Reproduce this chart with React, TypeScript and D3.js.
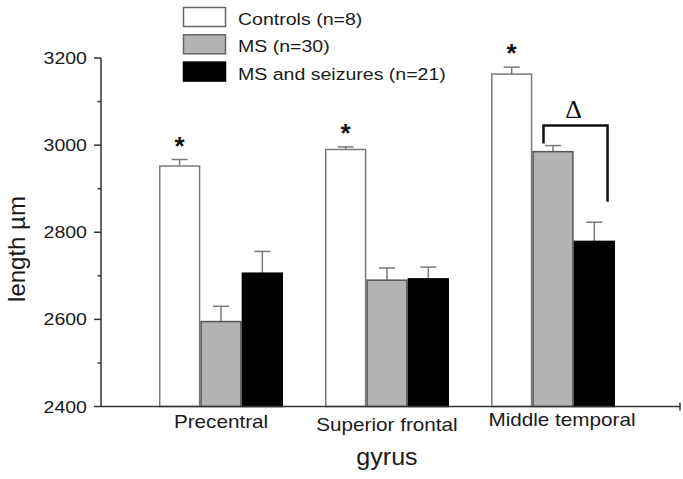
import React from "react";
import * as d3 from "d3";

const categories = ["Precentral", "Superior frontal", "Middle temporal"];
const seriesNames = ["Controls (n=8)", "MS (n=30)", "MS and seizures (n=21)"];
const controls = [2952, 2990, 3163];
const ms = [2595, 2690, 2985];
const msSeizures = [2706, 2693, 2779];
const controlsErr = [15, 6, 16];
const msErr = [35, 28, 14];
const msSeizuresErr = [50, 27, 44];
const significant = [true, true, true];
const yTicks = [2400, 2600, 2800, 3000, 3200];
const bracketValues = { top: 3045, left: 3004, right: 2870 };

const fills = ["#ffffff", "#b3b3b3", "#000000"];
const strokes = ["#7a7a7a", "#555555", "#000000"];
const FONT = "'Liberation Sans', Arial, sans-serif";
const SX = 1.15;

export default function App() {
  const W = 683, H = 479;
  const x0 = d3.scaleBand<string>().domain(categories).range([138, 636]).paddingInner(0.253).paddingOuter(0.1265);
  const x1 = d3.scaleBand<string>().domain(seriesNames).range([0, x0.bandwidth()]);
  const y = d3.scaleLinear().domain([2400, 3200]).range([406.5, 58]);
  const minor = y.ticks(8).filter((t) => !yTicks.includes(t));
  const values = [controls, ms, msSeizures];
  const errs = [controlsErr, msErr, msSeizuresErr];
  const axisX = 101;
  const labelDx = [0, 0, 9];
  const labelDy = [0, 3, -1.5];

  const bw = x1.bandwidth();
  const mt = categories[2];
  const bLeft = (x0(mt) as number) + (x1(seriesNames[1]) as number) + bw * 0.27;
  const bRight = (x0(mt) as number) + (x1(seriesNames[2]) as number) + bw * 0.82;

  return (
    <svg width={W} height={H} style={{ position: "absolute", left: 0, top: 0, background: "#fff" }}>
      {/* legend */}
      {seriesNames.map((s, i) => (
        <g key={s}>
          <rect x={183.5} y={7.5 + i * 27.3} width={42} height={19} fill={fills[i]} stroke={strokes[i] === "#000000" ? "#000" : "#666"} strokeWidth={1.5} />
          <text transform={`translate(238,${25 + i * 27.3}) scale(${SX},1)`} fontFamily={FONT} fontSize={17} fill="#1a1a1a">{s}</text>
        </g>
      ))}
      {/* bars */}
      {categories.map((c, ci) => (
        <g key={c} transform={`translate(${x0(c)},0)`}>
          {seriesNames.map((s, si) => {
            const v = values[si][ci];
            const e = errs[si][ci];
            const bx = x1(s) as number;
            const cx = bx + bw / 2;
            return (
              <g key={s}>
                <line x1={cx} x2={cx} y1={y(v)} y2={y(v + e)} stroke="#7a7a7a" strokeWidth={1.5} />
                <line x1={cx - 8} x2={cx + 8} y1={y(v + e)} y2={y(v + e)} stroke="#7a7a7a" strokeWidth={1.5} />
                <rect x={bx + 0.75} y={y(v)} width={bw - 1.5} height={y(2400) - y(v)} fill={fills[si]} stroke={strokes[si]} strokeWidth={1.5} />
              </g>
            );
          })}
          {significant[ci] && (
            <text x={(x1(seriesNames[0]) as number) + bw / 2} y={y(controls[ci] + controlsErr[ci]) - 5} textAnchor="middle" fontFamily={FONT} fontSize={26} fontWeight="bold" fill="#111">*</text>
          )}
        </g>
      ))}
      {/* bracket */}
      <path d={`M${bLeft},${y(bracketValues.left)} V${y(bracketValues.top)} H${bRight} V${y(bracketValues.right)}`} fill="none" stroke="#111" strokeWidth={2.5} />
      <text x={(bLeft + bRight) / 2 - 2} y={117.5} textAnchor="middle" fontFamily="'Liberation Serif', 'DejaVu Serif', 'Times New Roman', serif" fontSize={26} fill="#111">Δ</text>
      {/* axes */}
      <line x1={axisX} x2={axisX} y1={y(3200)} y2={y(2400)} stroke="#333" strokeWidth={1.5} />
      <line x1={axisX} x2={680} y1={y(2400)} y2={y(2400)} stroke="#333" strokeWidth={1.5} />
      <line x1={680} x2={680} y1={y(2400) - 4} y2={y(2400) + 4} stroke="#333" strokeWidth={1.5} />
      {yTicks.map((t) => (
        <g key={t}>
          <line x1={axisX - 7} x2={axisX} y1={y(t)} y2={y(t)} stroke="#333" strokeWidth={1.5} />
          <text transform={`translate(87,${y(t) + 6}) scale(${SX},1)`} textAnchor="end" fontFamily={FONT} fontSize={17} fill="#1a1a1a">{t}</text>
        </g>
      ))}
      {minor.map((t) => (
        <line key={t} x1={axisX - 3.5} x2={axisX} y1={y(t)} y2={y(t)} stroke="#333" strokeWidth={1.5} />
      ))}
      {categories.map((c, ci) => (
        <text key={c} transform={`translate(${(x0(c) as number) + x0.bandwidth() / 2 + labelDx[ci]},${427.5 + labelDy[ci]}) scale(${SX},1)`} textAnchor="middle" fontFamily={FONT} fontSize={18} fill="#1a1a1a">{c}</text>
      ))}
      <text transform={`translate(387,465) scale(1.09,1)`} textAnchor="middle" fontFamily={FONT} fontSize={23} fill="#1a1a1a">gyrus</text>
      <text transform={`translate(25,249) rotate(-90)`} textAnchor="middle" fontFamily={FONT} fontSize={24} fill="#1a1a1a">length µm</text>
    </svg>
  );
}
